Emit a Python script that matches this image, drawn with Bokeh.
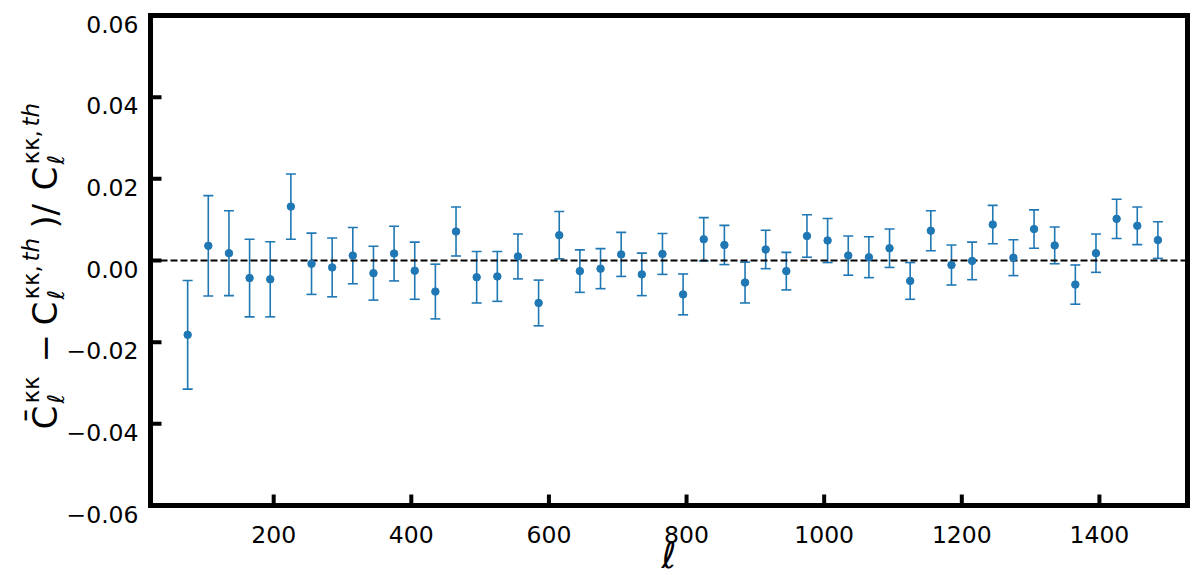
import math
from bokeh.plotting import figure
from bokeh.models import (Range1d, Whisker, TeeHead, ColumnDataSource)
from bokeh.core.properties import value
from bokeh.embed import file_html
from bokeh.resources import INLINE

# ---------------- data ----------------
ell = [75, 105, 135, 165, 195, 225, 255, 285, 315, 345, 375, 405, 435, 465,
       495, 525, 555, 585, 615, 645, 675, 705, 735, 765, 795, 825, 855, 885,
       915, 945, 975, 1005, 1035, 1065, 1095, 1125, 1155, 1185, 1215, 1245,
       1275, 1305, 1335, 1365, 1395, 1425, 1455, 1485]
frac_diff = [-0.0182, 0.0036, 0.0018, -0.0043, -0.0046, 0.0132, -0.0008,
             -0.0017, 0.0012, -0.0031, 0.0017, -0.0025, -0.0076, 0.0071,
             -0.0041, -0.0039, 0.0010, -0.0104, 0.0062, -0.0026, -0.0020,
             0.0015, -0.0034, 0.0016, -0.0083, 0.0052, 0.0038, -0.0054,
             0.0027, -0.0026, 0.0060, 0.0049, 0.0012, 0.0008, 0.0030,
             -0.0050, 0.0073, -0.0011, -0.0001, 0.0088, 0.0007, 0.0077,
             0.0037, -0.0059, 0.0018, 0.0102, 0.0085, 0.0050]
frac_err = [0.0133, 0.0123, 0.0104, 0.0095, 0.0092, 0.0080, 0.0075, 0.0072,
            0.0069, 0.0066, 0.0067, 0.0070, 0.0067, 0.0060, 0.0063, 0.0061,
            0.0055, 0.0056, 0.0058, 0.0052, 0.0049, 0.0054, 0.0052, 0.0050,
            0.0050, 0.0053, 0.0048, 0.0050, 0.0047, 0.0046, 0.0052, 0.0054,
            0.0048, 0.0050, 0.0047, 0.0045, 0.0049, 0.0049, 0.0046, 0.0047,
            0.0044, 0.0047, 0.0045, 0.0048, 0.0047, 0.0048, 0.0046, 0.0045]
x_ticks = [200, 400, 600, 800, 1000, 1200, 1400]
x_tick_labels = ["200", "400", "600", "800", "1000", "1200", "1400"]
y_ticks = [-0.06, -0.04, -0.02, 0.0, 0.02, 0.04, 0.06]
y_tick_labels = ["\u22120.06", "\u22120.04", "\u22120.02", "0.00", "0.02", "0.04", "0.06"]
x_label = "\u2113"

# ---------------- layout (pixels of the page) ----------------
X0, X1 = 21, 1528          # axes limits
Y0, Y1 = -0.06, 0.06
W, H = 1196, 575           # canvas
FRAME_L, FRAME_T = 150, 15
FRAME_W, FRAME_H = 1037, 490
FONT = "DejaVu Sans"
BLUE = "#1f77b4"
TICK_LEN = 11
TICK_FONT = "23.5px"


def px_to_x(px):
    return X0 + (px - FRAME_L) / FRAME_W * (X1 - X0)


def py_to_y(py):
    return Y1 - (py - FRAME_T) / FRAME_H * (Y1 - Y0)


DX = (X1 - X0) / FRAME_W   # data per pixel
DY = (Y1 - Y0) / FRAME_H

p = figure(width=W, height=H,
           x_range=Range1d(px_to_x(0), px_to_x(W)),
           y_range=Range1d(py_to_y(H), py_to_y(0)),
           output_backend="svg", toolbar_location=None,
           min_border_left=0, min_border_right=0,
           min_border_top=0, min_border_bottom=0)
p.axis.visible = False
p.grid.visible = False
p.outline_line_color = None
p.background_fill_color = "white"
p.border_fill_color = "white"

# zero line
p.line([X0, X1], [0.0, 0.0], line_color="black", line_width=2, line_dash="7 3")

# error bars + points
src = ColumnDataSource(data=dict(
    x=ell, y=frac_diff,
    lo=[v - e for v, e in zip(frac_diff, frac_err)],
    hi=[v + e for v, e in zip(frac_diff, frac_err)]))
p.add_layout(Whisker(source=src, base="x", lower="lo", upper="hi",
                     dimension="height", line_color=BLUE, line_width=1.6,
                     upper_head=TeeHead(size=10, line_color=BLUE, line_width=1.6),
                     lower_head=TeeHead(size=10, line_color=BLUE, line_width=1.6)))
p.scatter("x", "y", source=src, size=7.5, color=BLUE)

# ticks (inward)
p.segment(x0=x_ticks, y0=[Y0] * len(x_ticks), x1=x_ticks,
          y1=[Y0 + TICK_LEN * DY] * len(x_ticks),
          line_color="black", line_width=4)
p.segment(x0=[X0] * len(y_ticks), y0=y_ticks, x1=[X0 + TICK_LEN * DX] * len(y_ticks),
          y1=y_ticks, line_color="black", line_width=4)

# frame
p.quad(left=[X0], right=[X1], bottom=[Y0], top=[Y1], fill_color=None,
       line_color="black", line_width=5, line_join="miter")

# tick labels
p.text(x=x_ticks, y=[py_to_y(FRAME_T + FRAME_H + 29)] * len(x_ticks),
       text=x_tick_labels, text_font=value(FONT), text_font_size=TICK_FONT,
       text_align="center", text_baseline="alphabetic", text_color="black")
p.text(x=[px_to_x(FRAME_L - 12)] * len(y_ticks),
       y=[t - 8.5 * DY for t in y_ticks],
       text=y_tick_labels, text_font=value(FONT), text_font_size=TICK_FONT,
       text_align="right", text_baseline="alphabetic", text_color="black")

# x axis label
p.text(x=[px_to_x(FRAME_L + FRAME_W / 2)], y=[py_to_y(555)], text=[x_label],
       text_font=value(FONT), text_font_size="36px", text_font_style="italic",
       text_align="center", text_baseline="middle", text_color="black")

# y axis label, composed of pieces (text, start_py, baseline_px, size, style)
MAIN_X, SUP_X, SUB_X = 44, 30, 55
MAIN_S, SCRIPT_S = 34, 23
ylab_parts = [
    ("C\u0304", 429, MAIN_X, MAIN_S, "normal"),
    ("\u03ba\u03ba", 403, SUP_X, SCRIPT_S, "normal"),
    ("\u2113", 403, SUB_X, SCRIPT_S, "italic"),
    ("\u2212", 362, MAIN_X, MAIN_S, "normal"),
    ("C", 325, MAIN_X, MAIN_S, "normal"),
    ("\u03ba\u03ba,", 299, SUP_X, SCRIPT_S, "normal"),
    ("th", 261, SUP_X, SCRIPT_S, "italic"),
    ("\u2113", 299, SUB_X, SCRIPT_S, "italic"),
    (")", 228, MAIN_X, MAIN_S, "normal"),
    ("/", 215, MAIN_X, MAIN_S, "normal"),
    ("C", 190, MAIN_X, MAIN_S, "normal"),
    ("\u03ba\u03ba,", 164, SUP_X, SCRIPT_S, "normal"),
    ("th", 126, SUP_X, SCRIPT_S, "italic"),
    ("\u2113", 164, SUB_X, SCRIPT_S, "italic"),
]
for txt, spy, bpx, size, style in ylab_parts:
    p.text(x=[px_to_x(bpx)], y=[py_to_y(spy)], text=[txt], angle=math.pi / 2,
           text_font=value(FONT), text_font_size=f"{size}px",
           text_font_style=style, text_align="left",
           text_baseline="alphabetic", text_color="black")

open("out.html", "w").write(file_html(p, INLINE))
